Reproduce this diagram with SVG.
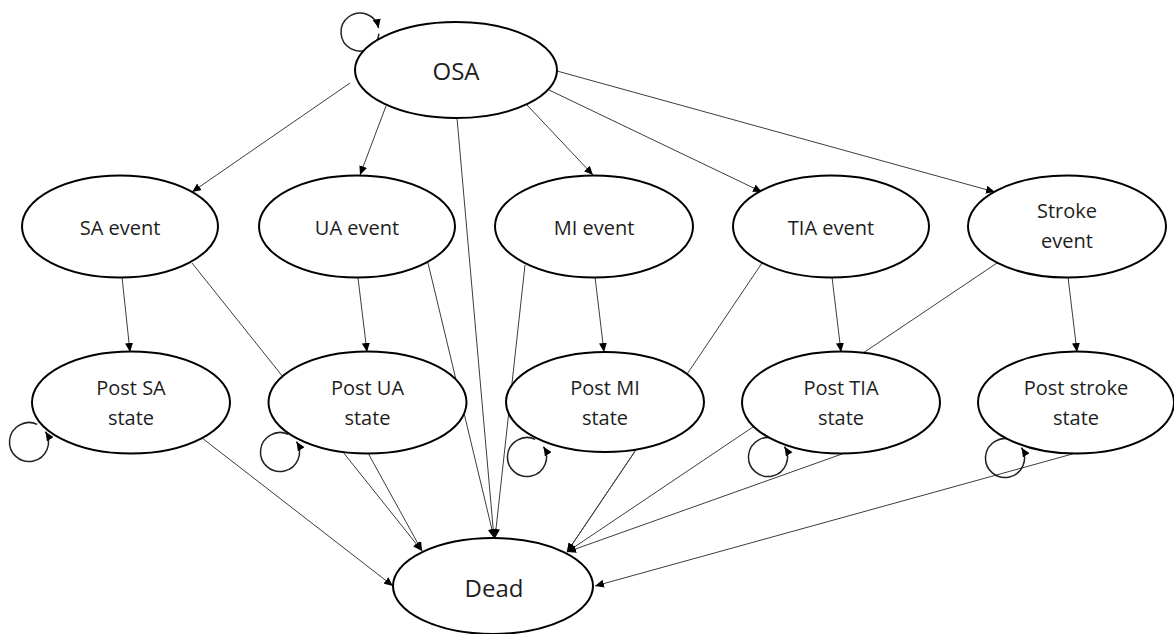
<svg xmlns="http://www.w3.org/2000/svg" width="1174" height="634" viewBox="0 0 1174 634">
<style>
.node ellipse{fill:#fff;stroke:#000;stroke-width:2}
.node text{font-family:"Open Sans","Noto Sans",sans-serif;font-size:20px;fill:#1e1e1e;text-anchor:middle}
.big text{font-size:24px}
.edge{fill:none;stroke:#3c3c3c;stroke-width:1;marker-end:url(#ah)}
.loop{fill:none;stroke:#222;stroke-width:1.5;marker-end:url(#ah)}
</style>
<defs>
<marker id="ah" markerUnits="userSpaceOnUse" markerWidth="10" markerHeight="8" refX="9" refY="4" orient="auto">
<path d="M0,0 L9,4 L0,8 z" fill="#000"/>
</marker>
</defs>
<rect width="1174" height="634" fill="#fff"/>
<g id="connectors">
<line class="edge" x1="350" y1="83" x2="192" y2="192"/>
<line class="edge" x1="386" y1="106" x2="360" y2="175"/>
<line class="edge" x1="527" y1="105" x2="593" y2="175"/>
<line class="edge" x1="549" y1="90" x2="762" y2="192"/>
<line class="edge" x1="557" y1="71" x2="995" y2="192"/>
<line class="edge" x1="457" y1="118" x2="494" y2="538"/>
<line class="edge" x1="122" y1="277" x2="130" y2="352"/>
<line class="edge" x1="358" y1="278" x2="367" y2="352"/>
<line class="edge" x1="595" y1="277" x2="604" y2="352"/>
<line class="edge" x1="832" y1="277" x2="841" y2="352"/>
<line class="edge" x1="1068" y1="277" x2="1077" y2="352"/>
<line class="edge" x1="192" y1="263" x2="422" y2="551"/>
<line class="edge" x1="428" y1="263" x2="494" y2="538"/>
<line class="edge" x1="525" y1="265" x2="495" y2="538"/>
<line class="edge" x1="762" y1="263" x2="567" y2="552"/>
<line class="edge" x1="997" y1="263" x2="567" y2="552"/>
<line class="edge" x1="202" y1="438" x2="393" y2="586"/>
<line class="edge" x1="368" y1="453" x2="422" y2="551"/>
<line class="edge" x1="634.5" y1="452" x2="567" y2="552"/>
<line class="edge" x1="842" y1="454" x2="567" y2="552"/>
<line class="edge" x1="1076" y1="453" x2="595" y2="586"/>
<path class="loop" d="M378.93,33.66 A19,19 0 1 1 378.58,28.05"/>
<path class="loop" d="M37.24,424.33 A19.5,19.5 0 1 0 45.54,431.67"/>
<path class="loop" d="M288.24,434.33 A19.5,19.5 0 1 0 296.54,441.67"/>
<path class="loop" d="M535.24,439.33 A19.5,19.5 0 1 0 543.54,446.67"/>
<path class="loop" d="M776.24,439.33 A19.5,19.5 0 1 0 784.54,446.67"/>
<path class="loop" d="M1013.24,440.33 A19.5,19.5 0 1 0 1021.54,447.67"/>
</g>
<g id="osa" class="node big"><ellipse cx="456" cy="70" rx="101" ry="48"/><text x="456" y="80">OSA</text></g>
<g id="sa-event" class="node"><ellipse cx="120" cy="226.5" rx="98" ry="51"/><text x="120" y="235">SA event</text></g>
<g id="ua-event" class="node"><ellipse cx="357" cy="226.5" rx="98" ry="51"/><text x="357" y="235">UA event</text></g>
<g id="mi-event" class="node"><ellipse cx="594" cy="226.5" rx="99" ry="51"/><text x="594" y="235">MI event</text></g>
<g id="tia-event" class="node"><ellipse cx="831" cy="226.5" rx="98" ry="51"/><text x="831" y="235">TIA event</text></g>
<g id="stroke-event" class="node"><ellipse cx="1067" cy="226.5" rx="99" ry="51"/><text x="1067" y="218">Stroke</text><text x="1067" y="248">event</text></g>
<g id="post-sa" class="node"><ellipse cx="131" cy="402.5" rx="99" ry="51"/><text x="131" y="395">Post SA</text><text x="131" y="425">state</text></g>
<g id="post-ua" class="node"><ellipse cx="367.5" cy="402.5" rx="99" ry="51"/><text x="367.5" y="395">Post UA</text><text x="367.5" y="425">state</text></g>
<g id="post-mi" class="node"><ellipse cx="605" cy="402" rx="99" ry="50"/><text x="605" y="395">Post MI</text><text x="605" y="425">state</text></g>
<g id="post-tia" class="node"><ellipse cx="841" cy="402.5" rx="99" ry="51"/><text x="841" y="395">Post TIA</text><text x="841" y="425">state</text></g>
<g id="post-stroke" class="node"><ellipse cx="1076" cy="402.5" rx="98" ry="51"/><text x="1076" y="395">Post stroke</text><text x="1076" y="425">state</text></g>
<g id="dead" class="node big"><ellipse cx="493" cy="586" rx="100" ry="48"/><text x="494" y="597">Dead</text></g>
</svg>
